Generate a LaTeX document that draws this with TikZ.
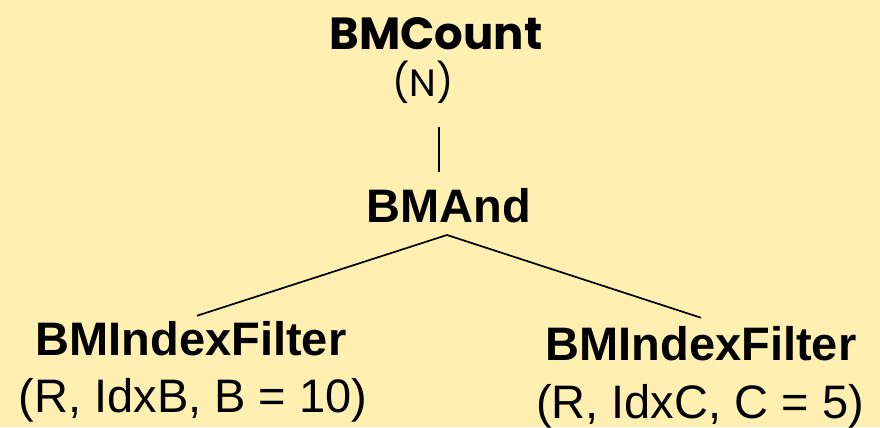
\documentclass[tikz,border=0pt]{standalone}
\usepackage{fontspec}
\setmainfont{Liberation Sans}
\newfontfamily\handfont{Poppins}
\definecolor{planbg}{RGB}{255,239,176}
\begin{document}
\begin{tikzpicture}[x=1pt,y=-1pt]
            \tikzstyle{every node}+=[inner sep=0pt, anchor=base]
            \tikzstyle{opname}=[font=\fontsize{47}{50}\selectfont\bfseries]
            \tikzstyle{oparg}=[font=\fontsize{47}{50}\selectfont]
                \fill [planbg] (0,0) rectangle (880,427);
                % count on top
                \node [font=\handfont\fontsize{45}{50}\selectfont\bfseries] (count) at (436,50) {BMCount};
                \node [font=\handfont\fontsize{38}{40}\selectfont] (countarg) at (423,97) {(N)};
                % bitmap and
                \node [opname] (and) at (449,222) {BMAnd};
                % the two index filters
                \node [opname] (filterB) at (191,355) {BMIndexFilter};
                \node [oparg] (argsB) at (193,412) {(R, IdxB, B = 10)};
                \node [opname] (filterC) at (701,360) {BMIndexFilter};
                \node [oparg] (argsC) at (700,418) {(R, IdxC, C = 5)};
                \coordinate (stalk) at (439,127);
                \coordinate (fork) at (447,235);
                \draw [black, line width=1.7pt] (stalk) -- ([yshift=16pt]and.north -| stalk);
                \draw [black, line width=1.7pt] ([xshift=6pt,yshift=5pt]filterB.north) -- (fork) -- ([yshift=8pt]filterC.north);
\end{tikzpicture}
\end{document}
